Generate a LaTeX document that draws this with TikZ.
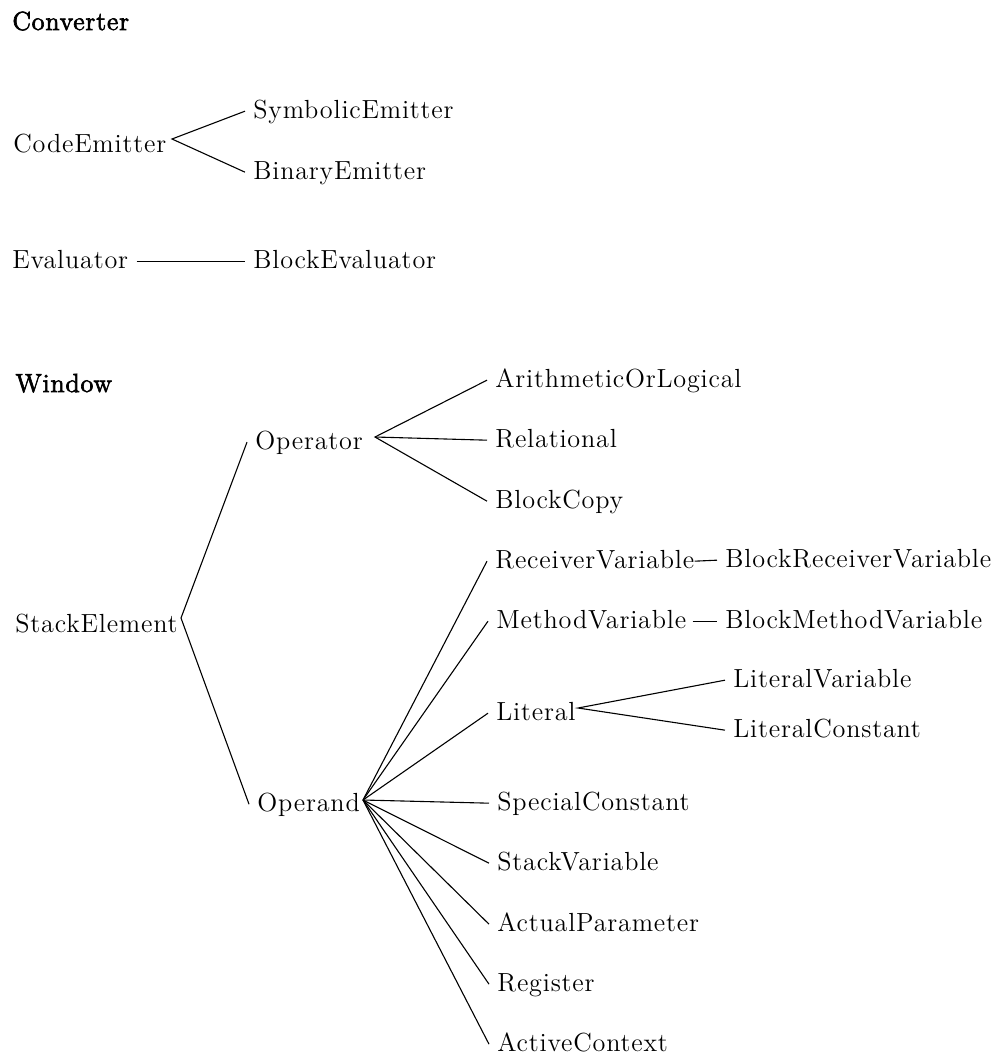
\documentclass[tikz,border=0pt]{standalone}
\usepackage{fontspec}
\setmainfont{Latin Modern Roman}[LetterSpace=3]
\newfontfamily\hdrfont{Latin Modern Roman}[LetterSpace=3,FakeBold=2.5]
\begin{document}
\begin{tikzpicture}[x=0.5pt,y=-0.5pt,
  lbl/.style={anchor=base west,inner xsep=4pt,inner ysep=0pt,text height=0.683em,text depth=0pt,font=\fontsize{13.1}{15}\selectfont},
  hdr/.style={lbl,font=\fontsize{13.1}{15}\hdrfont},
  edge/.style={line width=0.55pt}]
\useasboundingbox (0,0) rectangle (1005,1056);
% headers
\node[hdr] (conv) at (4,30) {Converter};
\node[hdr] (win) at (7,392) {Window};
% CodeEmitter group
\node[lbl] (ce) at (5,152) {CodeEmitter};
\node[lbl] (se) at (245,118) {SymbolicEmitter};
\node[lbl] (be) at (245,179) {BinaryEmitter};
\coordinate (ceA) at (172,139);
\draw[edge] (se.west) -- (ceA) -- (be.west);
% Evaluator
\node[lbl] (ev) at (4,268) {Evaluator};
\node[lbl] (bev) at (245,268) {BlockEvaluator};
\draw[edge] (ev.east) -- (bev.west);
% StackElement tree
\node[lbl] (sel) at (7,632) {StackElement};
\node[lbl] (op) at (247,449) {Operator};
\node[lbl] (opd) at (249,811) {Operand};
\coordinate (selA) at (181,618);
\draw[edge] (op.west) -- (selA) -- (opd.west);
% Operator children
\node[lbl] (aol) at (487,387) {ArithmeticOrLogical};
\node[lbl] (rel) at (487,447) {Relational};
\node[lbl] (bc) at (487,508) {BlockCopy};
\coordinate (opA) at (375,437);
\draw[edge] (aol.west) -- (opA) -- (bc.west);
\draw[edge] (opA) -- (rel.west);
% Operand children
\node[lbl] (rv) at (487,568) {ReceiverVariable};
\node[lbl] (mv) at (488,628) {MethodVariable};
\node[lbl] (lit) at (488,720) {Literal};
\node[lbl] (sc) at (489,810) {SpecialConstant};
\node[lbl] (sv) at (489,870) {StackVariable};
\node[lbl] (ap) at (489,931) {ActualParameter};
\node[lbl] (reg) at (489,991) {Register};
\node[lbl] (ac) at (489,1051) {ActiveContext};
\coordinate (opdA) at (363,800);
\foreach \c in {rv,mv,lit,sc,sv,ap,reg,ac}{\draw[edge] (opdA) -- (\c.west);}
% second level
\node[lbl] (brv) at (717,567) {BlockReceiverVariable};
\node[lbl] (bmv) at (717,628) {BlockMethodVariable};
\draw[edge] ([xshift=-4pt]rv.east) -- (brv.west);
\draw[edge] ([xshift=-1pt]mv.east) -- (bmv.west);
\node[lbl] (lv) at (725,687) {LiteralVariable};
\node[lbl] (lc) at (725,737) {LiteralConstant};
\coordinate (litA) at (578,708);
\draw[edge] (lv.west) -- (litA) -- (lc.west);
\end{tikzpicture}
\end{document}
